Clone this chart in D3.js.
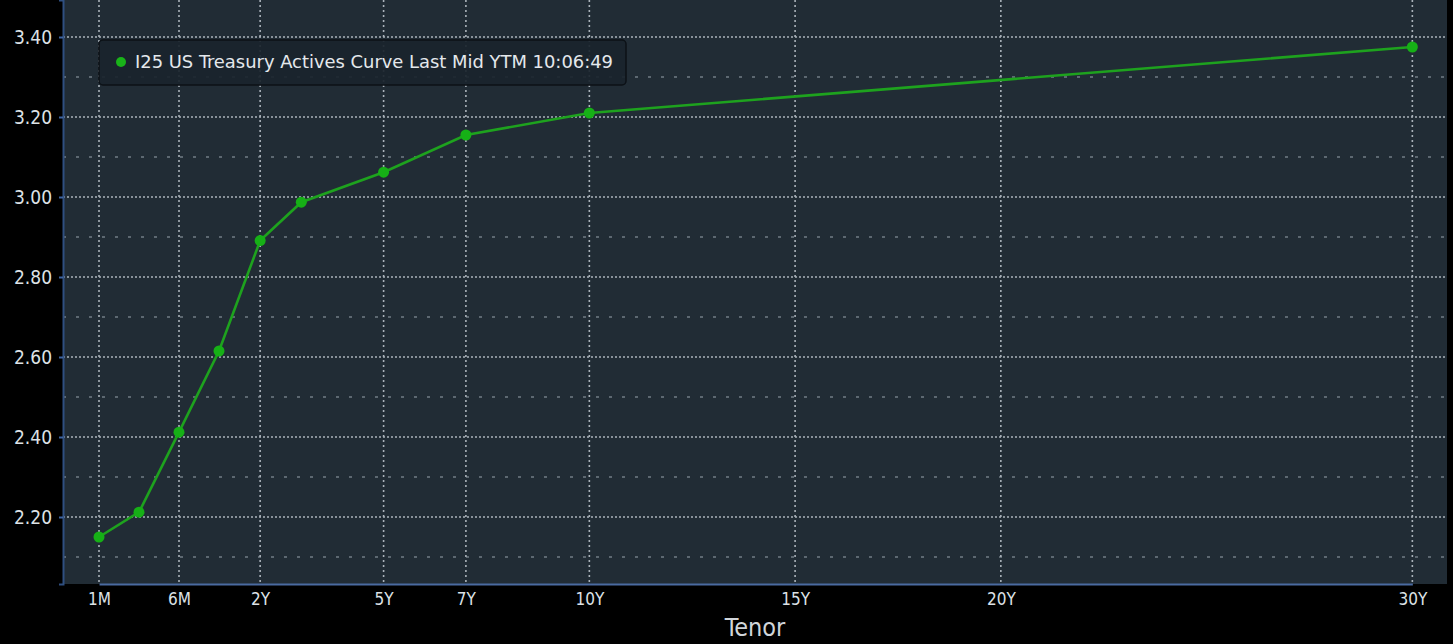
<!DOCTYPE html>
<html>
<head>
<meta charset="utf-8">
<script src="https://cdn.jsdelivr.net/npm/d3@7"></script>
<style>
  html, body { margin: 0; padding: 0; background: #000; }
  svg { display: block; }
  text { font-family: "Liberation Sans Narrow", "DejaVu Sans Condensed", "Noto Sans", sans-serif; }
</style>
</head>
<body>
<div id="chart"></div>
<script>
// Curve data: tenor label, tenor in years, yield
const tenors = ["1M", "3M", "6M", "1Y", "2Y", "3Y", "5Y", "7Y", "10Y", "30Y"];
const tenorYears = [1 / 12, 0.25, 0.5, 1, 2, 3, 5, 7, 10, 30];
const yields = [2.15, 2.212, 2.412, 2.615, 2.891, 2.987, 3.062, 3.155, 3.21, 3.375];

// Axis ticks
const xTickLabels = ["1M", "6M", "2Y", "5Y", "7Y", "10Y", "15Y", "20Y", "30Y"];
const xTickYears = [1 / 12, 0.5, 2, 5, 7, 10, 15, 20, 30];
const yTicks = [2.2, 2.4, 2.6, 2.8, 3.0, 3.2, 3.4];
const yMinorTicks = [2.1, 2.3, 2.5, 2.7, 2.9, 3.1, 3.3];

const legendText = "I25 US Treasury Actives Curve Last Mid YTM 10:06:49";

const W = 1453, H = 644;
const margin = {top: 0, right: 6, bottom: 60, left: 63};
const plotW = W - margin.left - margin.right;
const plotH = H - margin.top - margin.bottom;

// short end (1M..1Y) is spaced one step per tenor, beyond 1Y the axis is linear in years
const shortStep = 40, yearStep = 41.15, x0 = 36;
const xScale = d3.scaleLinear()
  .domain([1 / 12, 0.25, 0.5, 1, 30])
  .range([x0, x0 + shortStep, x0 + 2 * shortStep, x0 + 3 * shortStep, x0 + 3 * shortStep + 29 * yearStep]);

const yScale = d3.scaleLinear().domain([2.0325, 3.4925]).range([plotH, 0]);

const svg = d3.select("#chart").append("svg")
  .attr("width", W).attr("height", H);

svg.append("rect").attr("width", W).attr("height", H).attr("fill", "#000");

const g = svg.append("g").attr("transform", "translate(" + margin.left + "," + margin.top + ")");

g.append("rect")
  .attr("width", plotW).attr("height", plotH)
  .attr("fill", "#212c35");

// minor horizontal grid (dashed)
g.append("g").selectAll("line").data(yMinorTicks).enter().append("line")
  .attr("x1", 0).attr("x2", plotW)
  .attr("y1", d => yScale(d)).attr("y2", d => yScale(d))
  .attr("stroke", "#9aa4ad").attr("stroke-width", 1.2)
  .attr("stroke-dasharray", "3,10");

// major horizontal grid (dotted)
g.append("g").selectAll("line").data(yTicks).enter().append("line")
  .attr("x1", 0).attr("x2", plotW)
  .attr("y1", d => yScale(d)).attr("y2", d => yScale(d))
  .attr("stroke", "#aab2ba").attr("stroke-width", 1.6)
  .attr("stroke-dasharray", "2,2");

// vertical grid (dotted)
g.append("g").selectAll("line").data(xTickYears).enter().append("line")
  .attr("x1", d => xScale(d)).attr("x2", d => xScale(d))
  .attr("y1", 0).attr("y2", plotH)
  .attr("stroke", "#aab2ba").attr("stroke-width", 1.6)
  .attr("stroke-dasharray", "2,3");

// axes
const yAxis = d3.axisLeft(yScale).tickValues(yTicks).tickFormat(d3.format(".2f")).tickSize(4).tickPadding(7);
const yAx = g.append("g").call(yAxis);
yAx.select(".domain").attr("stroke", "#2f4f80").attr("stroke-width", 2);
yAx.selectAll(".tick line").attr("stroke", "#3d63a0").attr("stroke-width", 2);
yAx.selectAll(".tick text").attr("fill", "#dde2e6").attr("font-size", 19);

const xAxis = d3.axisBottom(xScale).tickValues(xTickYears)
  .tickFormat((d, i) => xTickLabels[i]).tickSize(0).tickPadding(9);
const xAx = g.append("g").attr("transform", "translate(0," + plotH + ")").call(xAxis);
xAx.select(".domain").attr("stroke", "#4a6aa0").attr("stroke-width", 2);
xAx.selectAll(".tick text").attr("fill", "#dde2e6").attr("font-size", 17);

svg.append("text")
  .attr("x", margin.left + plotW / 2).attr("y", H - 8)
  .attr("text-anchor", "middle")
  .attr("fill", "#d0d5da").attr("font-size", 25)
  .attr("font-family", "'Open Sans', 'Noto Sans', sans-serif")
  .text("Tenor");

// curve
const pts = tenors.map((t, i) => ({tenor: t, years: tenorYears[i], y: yields[i]}));
const line = d3.line().x(d => xScale(d.years)).y(d => yScale(d.y));

g.append("path").datum(pts)
  .attr("d", line)
  .attr("fill", "none")
  .attr("stroke", "#1ea21e")
  .attr("stroke-width", 2.6);

g.append("g").selectAll("circle").data(pts).enter().append("circle")
  .attr("cx", d => xScale(d.years)).attr("cy", d => yScale(d.y))
  .attr("r", 5.5).attr("fill", "#16b016");

// legend
const lg = g.append("g").attr("transform", "translate(36,40)");
lg.append("rect")
  .attr("width", 527).attr("height", 45).attr("rx", 4)
  .attr("fill", "#1a242c").attr("fill-opacity", 0.92)
  .attr("stroke", "#0c1116").attr("stroke-width", 1.5);
lg.append("circle").attr("cx", 22).attr("cy", 22).attr("r", 5).attr("fill", "#19b319");
lg.append("text")
  .attr("x", 36).attr("y", 28)
  .attr("fill", "#e4e8ec").attr("font-size", 18)
  .attr("textLength", 478).attr("lengthAdjust", "spacingAndGlyphs")
  .text(legendText);
</script>
</body>
</html>
